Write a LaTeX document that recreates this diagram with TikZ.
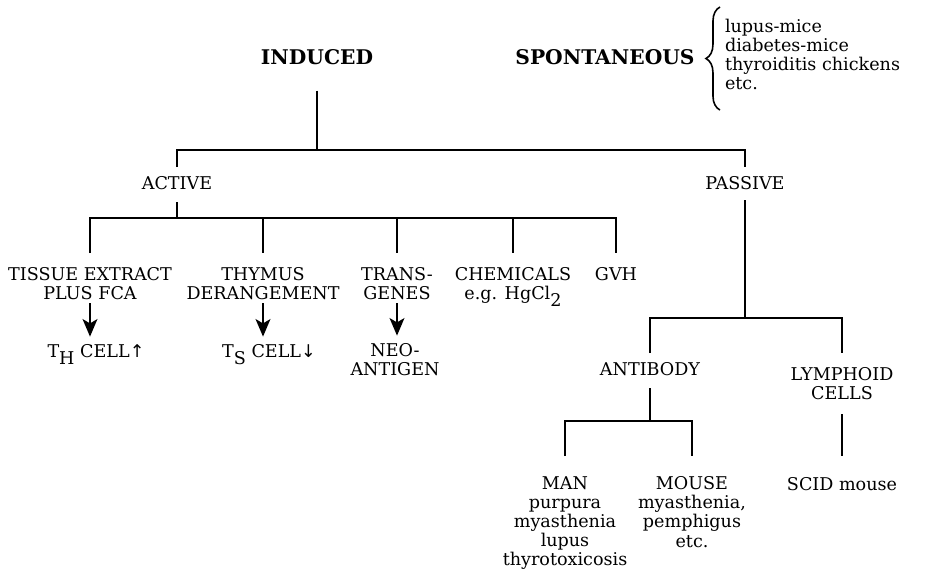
\documentclass[tikz,border=0pt]{standalone}
\usepackage{fontspec}
\setmainfont{DejaVu Serif}
\newfontfamily\cellarrowfont{DejaVu Sans}
\usetikzlibrary{arrows.meta,calc,decorations.pathreplacing}
\newcommand{\lowsub}[1]{\raisebox{-0.38em}{#1}}

\begin{document}
\begin{tikzpicture}[x=0.02cm,y=-0.02cm,
    txt/.style={anchor=north,inner sep=0pt,outer sep=0pt,align=center,font=\fontsize{10}{10.9}\selectfont},
    head/.style={txt,font=\fontsize{11.5}{12}\selectfont\bfseries},
    tree/.style={line width=1.2pt},
    lead/.style={line width=0.8pt,-{Stealth[length=10pt,width=8.5pt,inset=2.5pt]}}]
    \useasboundingbox (0,0) rectangle (936,572);

    \node[head] (induced) at (317,49) {INDUCED};
    \node[head] (spont) at (605,49) {SPONTANEOUS};
    \node[txt,anchor=north west,align=left] (strains) at (725,19) {lupus-mice\\diabetes-mice\\thyroiditis chickens\\etc.};
    \draw[line width=0.9pt,decorate,decoration={brace,amplitude=8pt}]
        ($(strains.south west)+(-5,20)$) -- ($(strains.north west)+(-5,-12)$);

    \node[txt] (active) at (177,176.5) {ACTIVE};
    \node[txt] (passive) at (745,176.5) {PASSIVE};
    \coordinate (bar1) at (0,150);
    \draw[tree,shorten <=15pt] (induced.south) -- (induced.south |- bar1);
    \draw[tree,shorten <=5.4pt,shorten >=5.4pt] (active.north) -- (active.north |- bar1) -- (passive.north |- bar1) -- (passive.north);

    \node[txt] (tissue) at (90,267.5) {TISSUE EXTRACT\\PLUS FCA};
    \node[txt] (thymus) at (263,267.5) {THYMUS\\DERANGEMENT};
    \node[txt] (transgenes) at (397,267.5) {TRANS-\\GENES};
    \node[txt] (chemicals) at (513,267.5) {CHEMICALS\\e.g. HgCl\lowsub{2}};
    \node[txt] (gvh) at (616,267.5) {GVH};
    \coordinate (bar2) at (0,218);
    \draw[tree,shorten <=7pt] (active.south) -- (active.south |- bar2);
    \draw[tree,shorten <=8.2pt,shorten >=8.2pt] (tissue.north) -- (tissue.north |- bar2) -- (gvh.north |- bar2) -- (gvh.north);
    \foreach \n in {thymus,transgenes,chemicals}
        \draw[tree,shorten >=8.2pt] (\n.north |- bar2) -- (\n.north);

    \node[txt] (thcell) at (96,344.5) {T\lowsub{H} CELL{\cellarrowfont ↑}};
    \node[txt] (tscell) at (269,344.5) {T\lowsub{S} CELL{\cellarrowfont ↓}};
    \node[txt] (neoantigen) at (395,343.5) {NEO-\\ANTIGEN};
    \draw[lead,shorten <=2pt,shorten >=4.5pt] (tissue.south) -- (tissue.south |- thcell.north);
    \draw[lead,shorten <=2pt,shorten >=4.5pt] (thymus.south) -- (thymus.south |- tscell.north);
    \draw[lead,shorten <=2pt,shorten >=4.5pt] (transgenes.south) -- (transgenes.south |- neoantigen.north);

    \node[txt] (antibody) at (650,362.5) {ANTIBODY};
    \node[txt] (lymphoid) at (842,367.5) {LYMPHOID\\CELLS};
    \coordinate (bar3) at (0,318);
    \draw[tree,shorten <=6pt] (passive.south) -- (passive.south |- bar3);
    \draw[tree,shorten <=5.4pt,shorten >=8.2pt] (antibody.north) -- (antibody.north |- bar3) -- (lymphoid.north |- bar3) -- (lymphoid.north);

    \node[txt] (man) at (565,476.5) {MAN\\purpura\\myasthenia\\lupus\\thyrotoxicosis};
    \node[txt] (mouse) at (692,476.5) {MOUSE\\myasthenia,\\pemphigus\\etc.};
    \node[txt] (scid) at (842,477.5) {SCID mouse};
    \coordinate (bar4) at (0,421);
    \draw[tree,shorten <=7pt] (antibody.south) -- (antibody.south |- bar4);
    \draw[tree,shorten <=11.6pt,shorten >=11.6pt] (man.north) -- (man.north |- bar4) -- (mouse.north |- bar4) -- (mouse.north);
    \draw[tree,shorten <=8pt,shorten >=12pt] (lymphoid.south) -- (scid.north);
\end{tikzpicture}
\end{document}
